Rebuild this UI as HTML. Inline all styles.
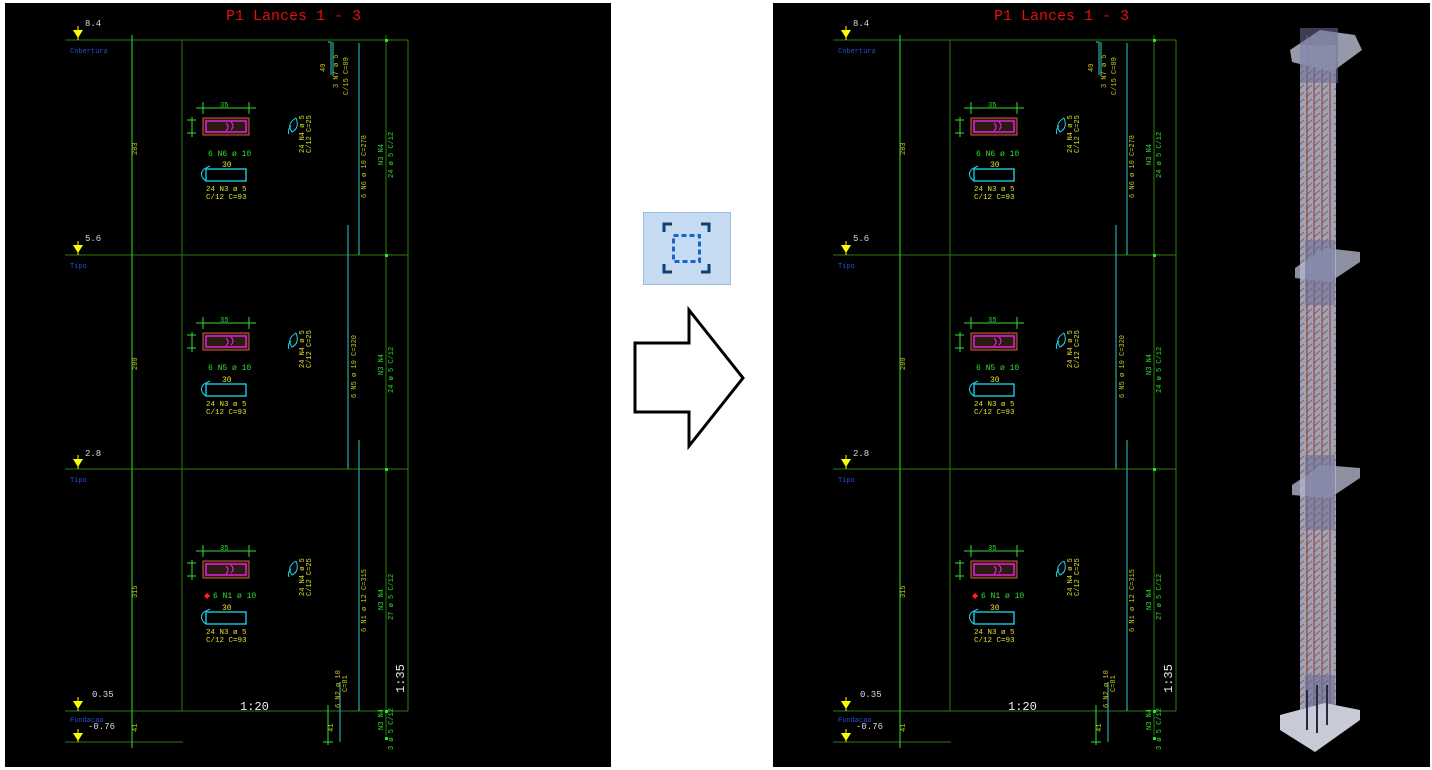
<!DOCTYPE html>
<html><head><meta charset="utf-8"><style>
html,body{margin:0;padding:0;background:#fff;width:1432px;height:770px;overflow:hidden}
svg text{font-family:"Liberation Mono",monospace}
</style></head><body>
<svg width="1432" height="770" xmlns="http://www.w3.org/2000/svg">
<defs>
<pattern id="stir" width="36" height="7" patternUnits="userSpaceOnUse">
<path d="M2 6 L8 1 M10 6 L16 1 M18 6 L24 1 M26 6 L32 1" stroke="#8a4a30" stroke-width="1"/>
</pattern>
<g id="dw">
<text x="226" y="20" fill="#e01010" font-size="15">P1 Lances 1 - 3</text>
<g stroke="#2f7a12" stroke-width="1" fill="none">
<line x1="65" y1="40" x2="408" y2="40"/><line x1="65" y1="255" x2="408" y2="255"/>
<line x1="65" y1="469" x2="408" y2="469"/><line x1="65" y1="711" x2="408" y2="711"/>
<line x1="65" y1="742" x2="183" y2="742"/>
<line x1="182" y1="40" x2="182" y2="711"/><line x1="408" y1="40" x2="408" y2="711"/>
<line x1="386" y1="35" x2="386" y2="735"/>
</g>
<g fill="#30e030"><rect x="385" y="39" width="3" height="3"/><rect x="385" y="254" width="3" height="3"/><rect x="385" y="468" width="3" height="3"/><rect x="385" y="710" width="3" height="3"/><rect x="385" y="737" width="3" height="3"/></g>
<line x1="132" y1="35" x2="132" y2="748" stroke="#30e030"/>
<line x1="328" y1="705" x2="328" y2="745" stroke="#30e030"/><line x1="323" y1="742" x2="333" y2="742" stroke="#30e030"/>
<g stroke="#30c8c0" fill="none">
<line x1="359" y1="43" x2="359" y2="255"/><line x1="348" y1="225" x2="348" y2="469"/>
<line x1="359" y1="440" x2="359" y2="711"/><line x1="340" y1="682" x2="340" y2="742"/>
<path d="M328 42 L331 42 L331 75"/><path d="M333 42 L333 76"/>
</g>
<g fill="#ffff00"><path d="M73 30 L83 30 L78 38Z"/><path d="M73 245 L83 245 L78 253Z"/><path d="M73 459 L83 459 L78 467Z"/><path d="M73 701 L83 701 L78 709Z"/><path d="M73 733 L83 733 L78 741Z"/></g>
<g stroke="#ffff00"><line x1="78" y1="26" x2="78" y2="40"/><line x1="78" y1="241" x2="78" y2="255"/><line x1="78" y1="455" x2="78" y2="469"/><line x1="78" y1="697" x2="78" y2="711"/><line x1="78" y1="729" x2="78" y2="742"/></g>
<g fill="#d8d8d8" font-size="9"><text x="85" y="26">8.4</text><text x="85" y="241">5.6</text><text x="85" y="456">2.8</text><text x="92" y="697">0.35</text><text x="88" y="729">-0.76</text></g>
<g fill="#2050d0" font-size="7"><text x="70" y="53">Cobertura</text><text x="70" y="268">Tipo</text><text x="70" y="482">Tipo</text><text x="70" y="722">Fundacao</text></g>
<text x="240" y="710" fill="#f0f0f0" font-size="12">1:20</text>
<text x="0" y="0" fill="#f0f0f0" font-size="12" transform="translate(404,693) rotate(-90)">1:35</text>
<g id="sec">
<g stroke="#30e030"><line x1="196" y1="108" x2="256" y2="108"/><line x1="203" y1="102" x2="203" y2="114"/><line x1="249" y1="102" x2="249" y2="114"/><line x1="192" y1="117" x2="192" y2="137"/><line x1="187" y1="120" x2="196" y2="120"/><line x1="187" y1="133" x2="196" y2="133"/></g>
<text x="220" y="107" fill="#30e030" font-size="7">35</text>
<rect x="203" y="118" width="46" height="17" fill="#2a1a10" stroke="#d06030"/>
<rect x="206" y="121" width="40" height="11" fill="none" stroke="#ff20ff" stroke-width="1.3"/>
<path d="M226 123 q4 4 0 8 M231 122 q4 4 0 8" stroke="#ff20ff" fill="none"/>
<rect x="206" y="169" width="40" height="12" fill="none" stroke="#20d8f0" stroke-width="1.3"/>
<path d="M206 181 q-8 -6 -2 -12 l6 -3" stroke="#20d8f0" fill="none"/>
<text x="222" y="167" fill="#e0e030" font-size="8">30</text>
<text x="206" y="191" fill="#e0e030" font-size="7.5">24 N3 ø 5</text>
<text x="206" y="199" fill="#e0e030" font-size="7.5">C/12 C=93</text>
<path d="M296 118 q-10 6 -4 14 q8 -4 4 -14 M291 126 q-4 4 -2 8" stroke="#20d8f0" fill="none"/>
<text x="0" y="0" fill="#e0e030" font-size="7" transform="translate(304,153) rotate(-90)">24 N4 ø 5</text>
<text x="0" y="0" fill="#e0e030" font-size="7" transform="translate(311,153) rotate(-90)">C/12 C=25</text>
</g>
<text x="208" y="156" fill="#30e030" font-size="8">6 N6 ø 10</text>
<use href="#sec" transform="translate(0,215)"/>
<text x="208" y="370" fill="#30e030" font-size="8">6 N5 ø 10</text>
<use href="#sec" transform="translate(0,443)"/>
<text x="204" y="598" fill="#ff2020" font-size="8">◆</text>
<text x="213" y="598" fill="#30e030" font-size="8">6 N1 ø 10</text>
<g fill="#c8c820" font-size="7">
<text transform="translate(137,155) rotate(-90)">283</text>
<text transform="translate(137,370) rotate(-90)">280</text>
<text transform="translate(137,598) rotate(-90)">315</text>
<text transform="translate(137,732) rotate(-90)">41</text>
<text transform="translate(333,732) rotate(-90)">41</text>
<text transform="translate(325,72) rotate(-90)">40</text>
<text transform="translate(338,88) rotate(-90)">3 N7 ø 5</text>
<text transform="translate(348,95) rotate(-90)">C/15 C=89</text>
<text transform="translate(366,198) rotate(-90)">6 N6 ø 10 C=278</text>
<text transform="translate(356,398) rotate(-90)">6 N5 ø 10 C=320</text>
<text transform="translate(366,632) rotate(-90)">6 N1 ø 12 C=315</text>
<text transform="translate(340,708) rotate(-90)">6 N2 ø 10</text>
<text transform="translate(347,692) rotate(-90)">C=81</text>
</g>
<g fill="#30e030" font-size="7">
<text transform="translate(383,165) rotate(-90)">N3 N4</text>
<text transform="translate(393,178) rotate(-90)">24 ø 5 C/12</text>
<text transform="translate(383,375) rotate(-90)">N3 N4</text>
<text transform="translate(393,393) rotate(-90)">24 ø 5 C/12</text>
<text transform="translate(383,610) rotate(-90)">N3 N4</text>
<text transform="translate(393,620) rotate(-90)">27 ø 5 C/12</text>
<text transform="translate(383,730) rotate(-90)">N3 N4</text>
<text transform="translate(393,750) rotate(-90)">3 ø 5 C/12</text>
</g>
</g>
</defs>
<rect x="5" y="3" width="606" height="764" fill="#000"/>
<rect x="773" y="3" width="657" height="764" fill="#000"/>
<use href="#dw"/>
<use href="#dw" transform="translate(768,0)"/>
<!-- icon -->
<rect x="643.5" y="212.5" width="87" height="72" fill="#c6dbf1" stroke="#9dbde0"/>
<g stroke="#0f3f73" stroke-width="3" fill="none">
<path d="M664 232 V224 H672"/><path d="M701 224 H709 V232"/><path d="M664 264 V272 H672"/><path d="M701 272 H709 V264"/></g>
<rect x="673.5" y="235.5" width="26" height="26" fill="none" stroke="#1a66c8" stroke-width="3" stroke-dasharray="5 3"/>
<!-- arrow -->
<path d="M635 343 H689 V310 L743 378 L689 446 V412 H635 Z" fill="#fff" stroke="#000" stroke-width="3"/>
<!-- 3D column -->
<g>
<rect x="1300" y="45" width="36" height="670" fill="#9fa2b8"/>
<rect x="1300" y="45" width="36" height="670" fill="url(#stir)" opacity="0.8"/>
<g stroke="#8a3a28" stroke-width="1"><line x1="1307" y1="35" x2="1307" y2="715"/><line x1="1314" y1="35" x2="1314" y2="715"/><line x1="1322" y1="35" x2="1322" y2="715"/><line x1="1330" y1="35" x2="1330" y2="715"/></g>
<path d="M1290 50 L1320 30 L1355 35 L1362 50 L1332 72 L1292 62Z" fill="#b0b4c8" opacity="0.85"/>
<rect x="1300" y="28" width="38" height="55" fill="#6a6f98" opacity="0.55"/>
<path d="M1295 268 L1325 248 L1360 252 L1360 262 L1330 282 L1295 278Z" fill="#b0b4c8" opacity="0.8"/>
<rect x="1305" y="240" width="30" height="65" fill="#6a6f98" opacity="0.55"/>
<path d="M1292 485 L1322 465 L1360 468 L1360 478 L1330 498 L1292 495Z" fill="#b0b4c8" opacity="0.8"/>
<rect x="1305" y="455" width="30" height="75" fill="#6a6f98" opacity="0.55"/>
<rect x="1305" y="675" width="30" height="45" fill="#6a6f98" opacity="0.6"/>
<path d="M1280 715 L1325 703 L1360 710 L1360 720 L1315 752 L1280 730Z" fill="#c8cad6"/>
<g stroke="#222a44" stroke-width="2"><line x1="1307" y1="690" x2="1307" y2="730"/><line x1="1317" y1="685" x2="1317" y2="733"/><line x1="1327" y1="685" x2="1327" y2="725"/></g>
</g>
</svg>
</body></html>
